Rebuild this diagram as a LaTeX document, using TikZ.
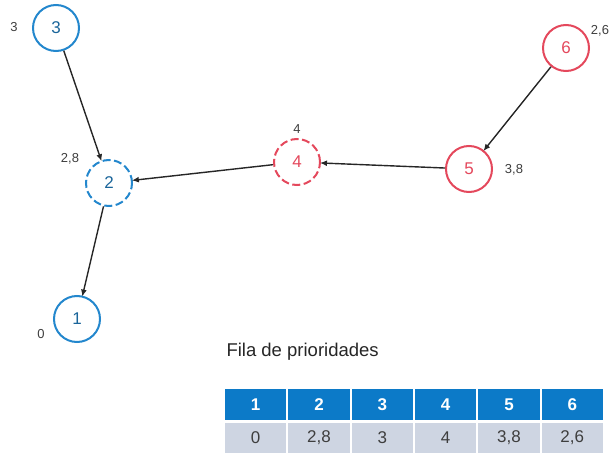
\documentclass[tikz,border=0pt]{standalone}
\usepackage{fontspec}
\setmainfont{Liberation Sans}
\usetikzlibrary{arrows.meta}
\definecolor{azul}{RGB}{35,135,205}
\definecolor{vermelho}{RGB}{228,72,92}
\definecolor{cabecalho}{RGB}{12,122,200}
\definecolor{fundo}{RGB}{206,213,226}
\definecolor{texto}{RGB}{62,62,62}
\begin{document}
\begin{tikzpicture}[x=1pt,y=-1pt,
	vert/.style={circle,line width=2pt,minimum size=46pt,inner sep=0pt,font=\fontsize{17}{17}\selectfont},
	vazul/.style={draw=azul,text=azul!75!black},
	vverm/.style={draw=vermelho,text=vermelho},
	tracejado/.style={dash pattern=on 8pt off 3.5pt},
	aresta/.style={-{Latex[length=7pt,width=6pt]},line width=1.4pt,draw=black!85,shorten >=-1pt},
	peso/.style={text=texto,font=\fontsize{13}{13}\selectfont},
	cab/.style={fill=cabecalho,text=white,font=\bfseries\fontsize{17}{17}\selectfont,minimum width=61.3pt,minimum height=31pt,inner sep=0pt},
	val/.style={fill=fundo,text=texto,font=\fontsize{17}{17}\selectfont,minimum width=61.3pt,minimum height=30pt,inner sep=0pt}]
	\useasboundingbox (0,0) rectangle (614,455);
	\node [vert,vazul] (n3) at (56,28) {3};
	\node [vert,vazul,tracejado] (n2) at (109,183) {2};
	\node [vert,vazul] (n1) at (77,319) {1};
	\node [vert,vverm,tracejado] (n4) at (297,162) {4};
	\node [vert,vverm] (n5) at (469,169) {5};
	\node [vert,vverm] (n6) at (566,48) {6};
	\node [peso] (p3) at (14,27) {3};
	\node [peso] (p2) at (70,159) {2,8};
	\node [peso] (p1) at (41,334) {0};
	\node [peso] (p4) at (297,129) {4};
	\node [peso] (p5) at (514,170) {3,8};
	\node [peso] (p6) at (600,31) {2,6};
	\draw [aresta] (n3) -- (n2);
	\draw [aresta] (n2) -- (n1);
	\draw [aresta] (n4) -- (n2);
	\draw [aresta] (n5) -- (n4);
	\draw [aresta] (n6) -- (n5);
	\node [right,text=black!85,font=\fontsize{18.5}{18.5}\selectfont] (titulo) at (223,352) {Fila de prioridades};
	\node [cab] (c1) at (255.7,404.5) {1};
	\node [cab] (c2) at (319.0,404.5) {2};
	\node [cab] (c3) at (382.3,404.5) {3};
	\node [cab] (c4) at (445.7,404.5) {4};
	\node [cab] (c5) at (509.0,404.5) {5};
	\node [cab] (c6) at (572.3,404.5) {6};
	\node [val] (v1) at (255.7,438) {0};
	\node [val] (v2) at (319.0,438) {2,8};
	\node [val] (v3) at (382.3,438) {3};
	\node [val] (v4) at (445.7,438) {4};
	\node [val] (v5) at (509.0,438) {3,8};
	\node [val] (v6) at (572.3,438) {2,6};
\end{tikzpicture}
\end{document}
